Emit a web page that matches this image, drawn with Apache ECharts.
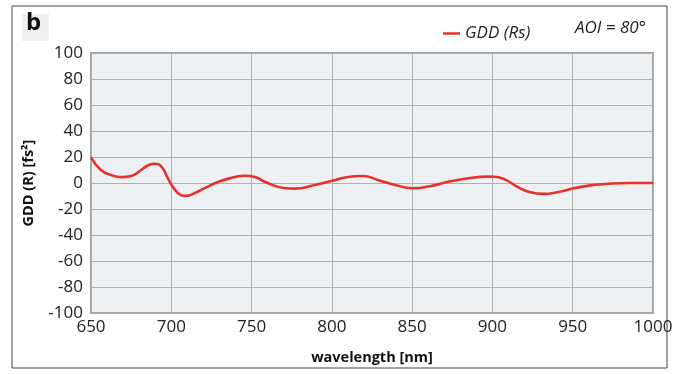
<!DOCTYPE html>
<html><head><meta charset="utf-8">
<script src="https://cdn.jsdelivr.net/npm/echarts@6/dist/echarts.min.js"></script>
<style>html,body{margin:0;padding:0;background:#fff}#c{width:685px;height:374px}</style>
</head><body><div id="c"></div>
<script>
const wavelengths = [650,656,663,669,675,681,686,690,694,698,701,706,709,715,721,729,737,746,752,760,770,777,788,799,809,819,830,840,850,861,874,886,896,901,908,914,923,932,941,950,960,970,985,1000];
const gddRs = [19.8,10.2,5.9,4.5,5.4,9.8,13.8,14.8,12.3,3.3,-3,-9.3,-9.9,-7.5,-3.8,0.8,3.8,5.6,4.6,0,-3.8,-4.3,-2,1.3,4.4,5.4,1.8,-1.8,-4,-2.5,1.3,3.8,4.9,4.8,2.6,-1.8,-6.9,-8.4,-6.9,-4.3,-2,-0.8,0,0];
const seriesName = 'GDD (Rs)';
const aoiText = 'AOI = 80°';
const panelLabel = 'b';
const xTitle = 'wavelength [nm]';
const yTitle = 'GDD (R) [fs²]';

const chart = echarts.init(document.getElementById('c'), null, {renderer:'canvas'});
const font = '"Open Sans", "Noto Sans", sans-serif';
chart.setOption({
  animation:false,
  backgroundColor:'#fff',
  textStyle:{fontFamily:font},
  grid:{left:91,right:32,top:53,bottom:61,show:true,backgroundColor:'#edf1f4',borderColor:'#a3a3a3',borderWidth:2},
  legend:{data:[seriesName],left:438,top:20,icon:'rect',itemWidth:17,itemHeight:2.5,itemGap:7,
    textStyle:{fontFamily:font,fontSize:17,fontStyle:'italic',color:'#222'}},
  xAxis:{type:'value',min:650,max:1000,interval:50,
    name:xTitle,nameLocation:'middle',nameGap:37,
    nameTextStyle:{fontFamily:font,fontWeight:'bold',fontSize:14.5,color:'#111'},
    axisLine:{show:false},axisTick:{show:false},
    axisLabel:{fontSize:17,color:'#222',margin:6,fontFamily:font,formatter:v=>String(v)},
    splitLine:{lineStyle:{color:'#b0b0b0',width:1}}},
  yAxis:{type:'value',min:-100,max:100,interval:20,
    name:yTitle,nameLocation:'middle',nameGap:55,
    nameTextStyle:{fontFamily:font,fontWeight:'bold',fontSize:14.5,color:'#111'},
    axisLine:{show:false},axisTick:{show:false},
    axisLabel:{fontSize:17,color:'#222',margin:8,fontFamily:font},
    splitLine:{lineStyle:{color:'#b0b0b0',width:1}}},
  series:[{name:seriesName,type:'line',smooth:0.5,showSymbol:false,
    data:wavelengths.map((w,i)=>[w,gddRs[i]]),
    lineStyle:{color:'#e8312b',width:2.6},itemStyle:{color:'#e8312b'}}],
  graphic:[
    {type:'rect',shape:{x:12,y:6,width:655,height:362},style:{fill:'none',stroke:'#444',lineWidth:1},z:-1},
    {type:'rect',shape:{x:22,y:14,width:27,height:27},style:{fill:'#efefef'},z:1},
    {type:'text',left:26,top:11,style:{text:panelLabel,font:'bold 24px '+font,fill:'#111'},z:2},
    {type:'text',left:575,top:20,style:{text:aoiText,font:'italic 17px '+font,fill:'#222'},z:2}
  ]
});
</script></body></html>
